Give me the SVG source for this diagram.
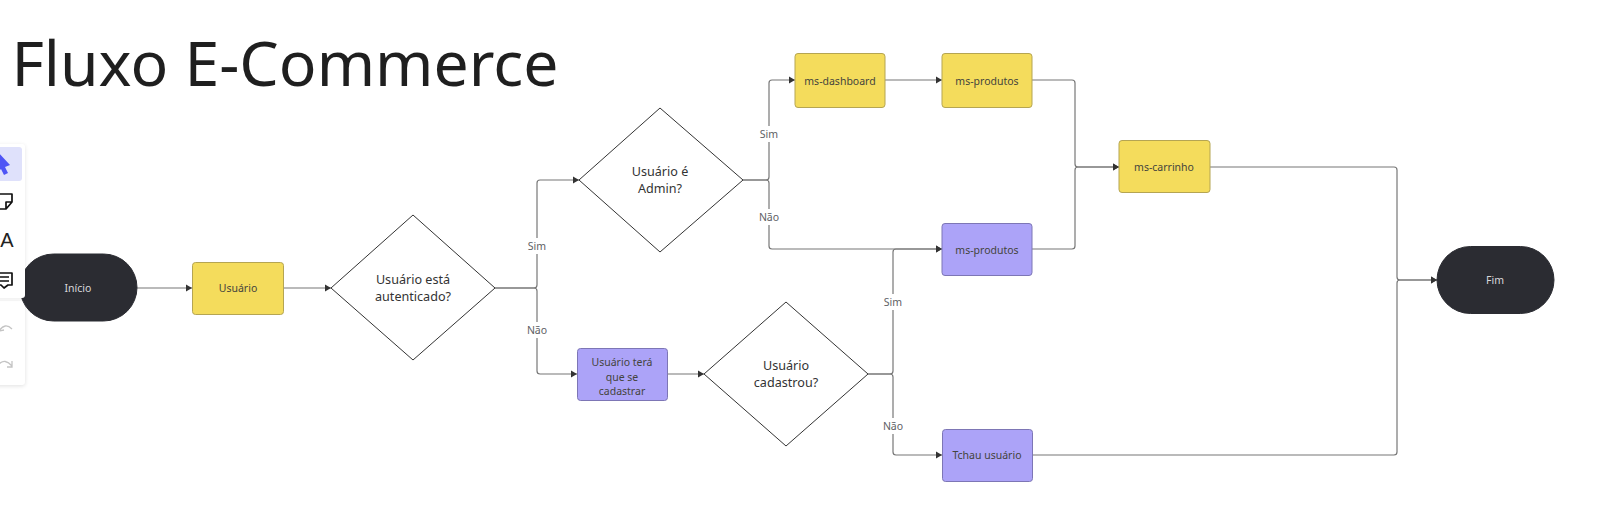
<svg xmlns="http://www.w3.org/2000/svg" width="1600" height="507" viewBox="0 0 1600 507">
<style>
text{font-family:"Noto Sans","Open Sans",sans-serif;text-anchor:middle;dominant-baseline:central}
.y{fill:#f4dc5c;stroke:#b5a552}
.p{fill:#aca3f8;stroke:#7d76b5}
.pill{fill:#2b2c32;stroke:#2b2c32}
.dia{fill:#fff;stroke:#333;stroke-width:1}
.t{font-size:10.500px;fill:#44443c}
.tw{font-size:10.500px;fill:#d8d8da}
.q{font-size:12.600px;fill:#333}
.lb{font-size:10.500px;fill:#606165}
.c{fill:none;stroke:#777;stroke-width:1.2}
.mask{fill:#fff}
.icon{fill:none;stroke:#111;stroke-width:1.7;stroke-linejoin:round}
.redo{fill:none;stroke:#c4c4c4;stroke-width:1.3}
</style>
<defs>
<marker id="a" markerUnits="userSpaceOnUse" markerWidth="7" markerHeight="8" refX="6" refY="4" orient="auto"><path d="M0 0.500L6 4L0 7.500z" fill="#333"/></marker>
<filter id="sh" x="-50%" y="-10%" width="200%" height="120%"><feGaussianBlur stdDeviation="2"/></filter>
</defs>
<rect width="1600" height="507" fill="#fff"/>
<text id="title" x="285" y="61" style="font-size:62.500px;fill:#1f1f1f">Fluxo E-Commerce</text>
<g id="connectors">
<path class="c" marker-end="url(#a)" d="M137 288H192"/>
<path class="c" marker-end="url(#a)" d="M284 288H331"/>
<path class="c" marker-end="url(#a)" d="M495 288H534Q537 288 537 285V183Q537 180 540 180H579"/>
<path class="c" marker-end="url(#a)" d="M495 288H534Q537 288 537 291V371Q537 374 540 374H577"/>
<path class="c" marker-end="url(#a)" d="M668 374H704"/>
<path class="c" marker-end="url(#a)" d="M743 180H766Q769 180 769 177V83Q769 80 772 80H795"/>
<path class="c" marker-end="url(#a)" d="M743 180H766Q769 180 769 183V246Q769 249 772 249H942"/>
<path class="c" marker-end="url(#a)" d="M885 80H942"/>
<path class="c" marker-end="url(#a)" d="M868 374H890Q893 374 893 371V252Q893 249 896 249H942"/>
<path class="c" marker-end="url(#a)" d="M868 374H890Q893 374 893 377V452Q893 455 896 455H942"/>
<path class="c" marker-end="url(#a)" d="M1032 80H1072Q1075 80 1075 83V164Q1075 167 1078 167H1119"/>
<path class="c" marker-end="url(#a)" d="M1032 249H1072Q1075 249 1075 246V170Q1075 167 1078 167H1119"/>
<path class="c" marker-end="url(#a)" d="M1210 167H1394Q1397 167 1397 170V277Q1397 280 1400 280H1437"/>
<path class="c" marker-end="url(#a)" d="M1033 455H1394Q1397 455 1397 452V283Q1397 280 1400 280H1437"/>
<rect class="mask" x="526" y="238" width="22" height="16"/><text class="lb" x="537" y="245.700">Sim</text>
<rect class="mask" x="525" y="322" width="24" height="16"/><text class="lb" x="537" y="329.700">Não</text>
<rect class="mask" x="758" y="126" width="22" height="16"/><text class="lb" x="769" y="133.700">Sim</text>
<rect class="mask" x="757" y="209" width="24" height="16"/><text class="lb" x="769" y="216.700">Não</text>
<rect class="mask" x="882" y="294" width="22" height="16"/><text class="lb" x="893" y="301.700">Sim</text>
<rect class="mask" x="881" y="418" width="24" height="16"/><text class="lb" x="893" y="425.700">Não</text>
</g>
<g id="toolbar-lower">
<rect x="-10" y="302" width="35" height="84" rx="3" fill="#000" opacity=".12" filter="url(#sh)"/>
<rect x="-10" y="301" width="35" height="84" rx="3" fill="#fff"/>
<path class="redo" d="M-1 331Q5 322 12 329M-2 326L-1 331L4 330"/>
<path class="redo" d="M-1 364Q5 358 12 366M12 361V367H7"/>
</g>
<g id="inicio"><rect class="pill" x="20" y="254" width="117" height="67" rx="33.500"/><text class="tw" x="78" y="287.700">Início</text></g>
<g id="usuario"><rect class="y" x="192.500" y="262.500" width="91" height="52" rx="3"/><text class="t" x="238" y="287.700">Usuário</text></g>
<g id="autenticado"><polygon class="dia" points="331,288 413,215 495,288 413,360"/><text class="q" x="413" y="279">Usuário está</text><text class="q" x="413" y="296.500">autenticado?</text></g>
<g id="admin"><polygon class="dia" points="579,180 660,108 743,180 660,252"/><text class="q" x="660" y="171">Usuário é</text><text class="q" x="660" y="188.500">Admin?</text></g>
<g id="cadastrar"><rect class="p" x="577.500" y="348.500" width="90" height="52" rx="3"/><text class="t" x="622" y="361.700">Usuário terá</text><text class="t" x="622" y="376.700">que se</text><text class="t" x="622" y="390.700">cadastrar</text></g>
<g id="cadastrou"><polygon class="dia" points="704,374 786,302 868,374 786,446"/><text class="q" x="786" y="365">Usuário</text><text class="q" x="786" y="382.500">cadastrou?</text></g>
<g id="dashboard"><rect class="y" x="795" y="53.500" width="90" height="54" rx="3"/><text class="t" x="840" y="80.700">ms-dashboard</text></g>
<g id="produtos1"><rect class="y" x="942" y="53.500" width="90" height="54" rx="3"/><text class="t" x="987" y="80.700">ms-produtos</text></g>
<g id="produtos2"><rect class="p" x="942" y="223.500" width="90" height="52" rx="3"/><text class="t" x="987" y="249.700">ms-produtos</text></g>
<g id="tchau"><rect class="p" x="942.500" y="429.500" width="90" height="52" rx="3"/><text class="t" x="987" y="454.700">Tchau usuário</text></g>
<g id="carrinho"><rect class="y" x="1119" y="140.500" width="91" height="52" rx="3"/><text class="t" x="1164" y="166.700">ms-carrinho</text></g>
<g id="fim"><rect class="pill" x="1437" y="246.500" width="117" height="67" rx="33.500"/><text class="tw" x="1495" y="279.700">Fim</text></g>
<g id="toolbar-upper">
<rect x="-10" y="145" width="35" height="153" rx="3" fill="#000" opacity=".1" filter="url(#sh)"/>
<rect x="-10" y="144" width="35" height="154" rx="3" fill="#fff"/>
<rect x="-6" y="147" width="28" height="34" rx="3" fill="#dfe1fb"/>
<path d="M-3 151L10 165L5 167L8 173L4 175L1 169L-3 173z" fill="#4f55f5"/>
<path class="icon" d="M-2 194H12V202L6 209H-2M12 202H6V209"/>
<text x="6.800" y="240" style="font-size:20px;fill:#222;font-family:'Liberation Sans',sans-serif">A</text>
<path class="icon" d="M-2 273H12V285H8L4 288L1 285H-2zM-1 277H9M-1 281H9"/>
</g>
</svg>
